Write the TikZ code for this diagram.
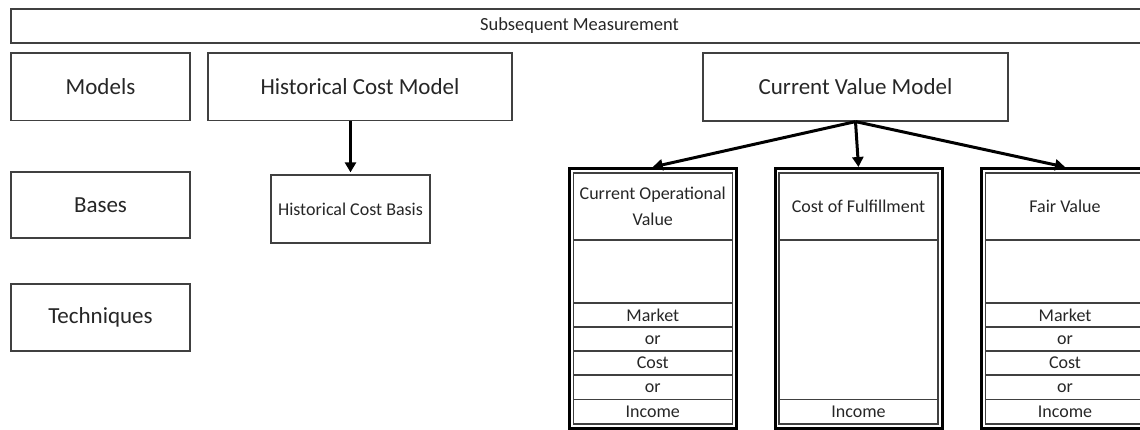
\documentclass[tikz,border=0pt]{standalone}
\usepackage{fontspec}
\setmainfont{Carlito}
\usetikzlibrary{arrows.meta}

\tikzset{
  box/.style={draw=black!75, line width=1.2pt, inner sep=0pt, text=black!85, align=center},
  frame/.style={draw=black, line width=3pt, inner sep=0pt, minimum width=167pt, minimum height=259.5pt},
  inner/.style={box, minimum width=159pt, minimum height=251pt},
  head/.style={box, smalltxt, minimum width=159pt, minimum height=67pt, anchor=north},
  tech/.style={box, smalltxt, minimum width=159pt, minimum height=24pt},
  ortxt/.style={smalltxt, text=black!85, inner sep=0pt},
  arr/.style={line width=3pt, -{Triangle[length=10pt,width=11pt]}},
  bigtxt/.style={font=\fontsize{23}{27}\selectfont},
  smalltxt/.style={font=\fontsize{18}{26}\selectfont},
}

\begin{document}
\begin{tikzpicture}[x=1pt,y=-1pt]
  \useasboundingbox (0,0) rectangle (1140,430);

  % title bar
  \node[box, font=\fontsize{18.5}{22}\selectfont, minimum width=1137pt, minimum height=34pt] (subseq) at (579.5,26) {Subsequent Measurement};

  % row labels
  \node[box, bigtxt, minimum width=179pt, minimum height=67.5pt] (models) at (100.5,86.75) {Models};
  \node[box, bigtxt, minimum width=179pt, minimum height=66pt] (bases) at (100.5,205) {Bases};
  \node[box, bigtxt, minimum width=179pt, minimum height=67pt] (techniques) at (100.5,317.5) {Techniques};

  % historical cost
  \node[box, bigtxt, minimum width=304pt, minimum height=67.5pt] (hcm) at (360,86.75) {Historical Cost Model};
  \node[box, smalltxt, minimum width=159pt, minimum height=68pt] (hcb) at (350.5,209) {Historical Cost Basis};

  % current value
  \node[box, bigtxt, minimum width=305pt, minimum height=68pt] (cvm) at (855.5,87) {Current Value Model};

  \node[frame] (covframe) at (652.75,298.25) {};
  \node[frame] (cofframe) at (858.5,298.25) {};
  \node[frame] (fvframe) at (1065,298.25) {};

  \node[inner] (covinner) at (652.75,298.5) {};
  \node[inner] (cofinner) at (858.5,298.5) {};
  \node[inner] (fvinner) at (1065,298.5) {};

  \node[head] (cov) at (covinner.north) {Current Operational\\Value};
  \node[head] (cof) at (cofinner.north) {Cost of Fulfillment};
  \node[head] (fv) at (fvinner.north) {Fair Value};

  \node[tech] (covmarket) at (652.75,315) {Market};
  \node[ortxt] (covor1) at (652.75,340) {or};
  \node[tech] (covcost) at (652.75,363) {Cost};
  \node[ortxt] (covor2) at (652.75,388) {or};
  \node[tech] (covincome) at (652.75,411.5) {Income};

  \node[tech] (cofincome) at (858.5,411.5) {Income};

  \node[tech] (fvmarket) at (1065,315) {Market};
  \node[ortxt] (fvor1) at (1065,340) {or};
  \node[tech] (fvcost) at (1065,363) {Cost};
  \node[ortxt] (fvor2) at (1065,388) {or};
  \node[tech] (fvincome) at (1065,411.5) {Income};

  % arrows
  \draw[arr, shorten >=2pt] (hcb.north |- hcm.south) -- (hcb.north);
  \draw[arr] (cvm.south) -- (covframe.north);
  \draw[arr] (cvm.south) -- (cofframe.north);
  \draw[arr] (cvm.south) -- (fvframe.north);
\end{tikzpicture}
\end{document}
